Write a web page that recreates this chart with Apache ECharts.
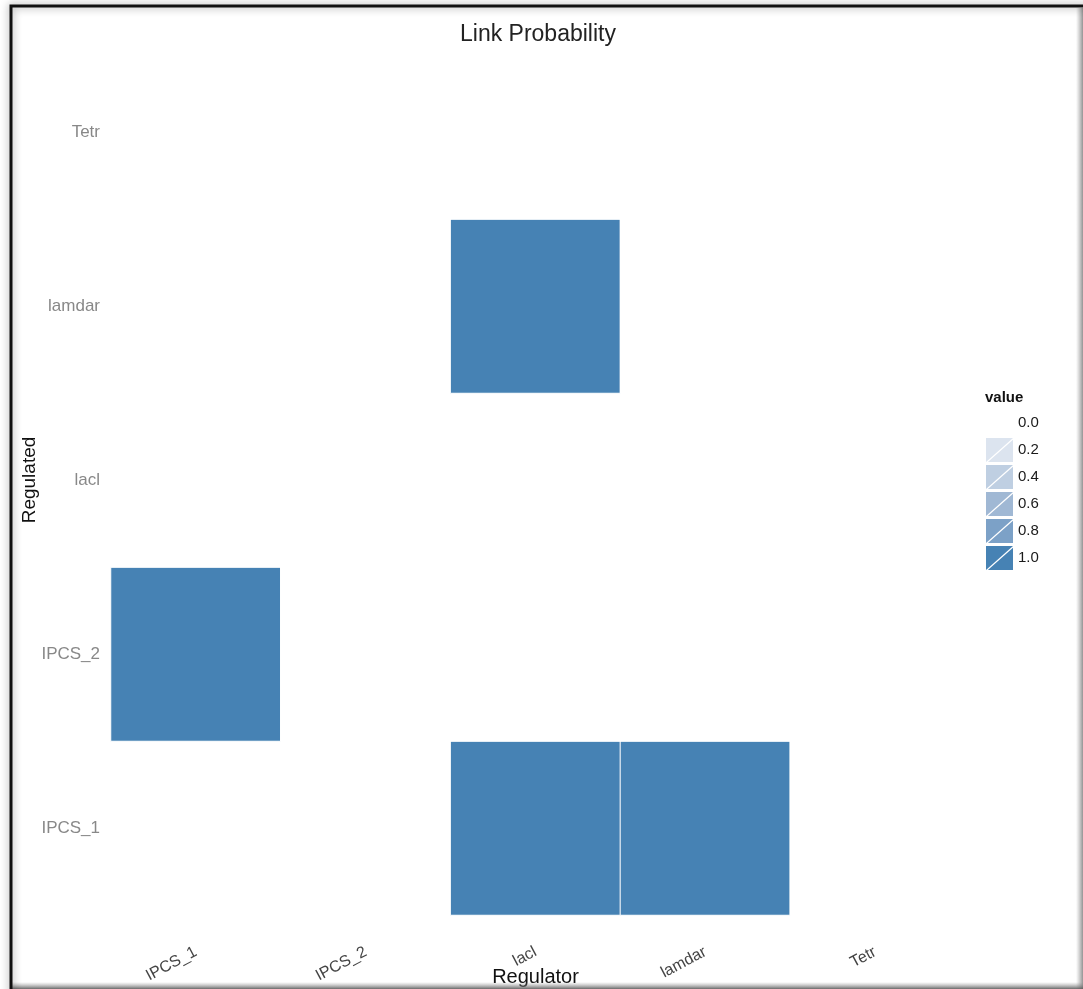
<!DOCTYPE html>
<html>
<head>
<meta charset="utf-8">
<script src="https://cdn.jsdelivr.net/npm/echarts@6/dist/echarts.min.js"></script>
<style>
html,body{margin:0;padding:0;background:#fff;overflow:hidden;}
#chart{width:1083px;height:989px;}
</style>
</head>
<body>
<div id="chart"></div>
<script>
var regulators = ['IPCS_1', 'IPCS_2', 'lacl', 'lamdar', 'Tetr'];
var regulated = ['IPCS_1', 'IPCS_2', 'lacl', 'lamdar', 'Tetr'];
// rows: regulated (bottom to top), columns: regulator
var rowIPCS_1 = [0, 0, 1, 1, 0];
var rowIPCS_2 = [1, 0, 0, 0, 0];
var rowLacl   = [0, 0, 0, 0, 0];
var rowLamdar = [0, 0, 1, 0, 0];
var rowTetr   = [0, 0, 0, 0, 0];
var legendValues = [0, 0.2, 0.4, 0.6, 0.8, 1.0];
var legendLabels = ['0.0', '0.2', '0.4', '0.6', '0.8', '1.0'];
var legendColors = ['#ffffff', '#dce4ef', '#bfcfe2', '#a0b8d4', '#7ca1c7', '#4682b4'];

var rows = [rowIPCS_1, rowIPCS_2, rowLacl, rowLamdar, rowTetr];
var data = [];
rows.forEach(function (row, yi) {
  row.forEach(function (v, xi) { data.push([xi, yi, v]); });
});
var pieces = legendValues.map(function (v, i) {
  return { value: v, label: legendLabels[i], color: legendColors[i] };
});

var chart = echarts.init(document.getElementById('chart'), null, { renderer: 'canvas' });
var W = 1083, H = 989;
var font = 'Liberation Sans, Arial, sans-serif';
chart.setOption({
  backgroundColor: '#ffffff',
  animation: false,
  title: [
    { text: 'Link Probability', left: 455, top: 18,
      textStyle: { fontFamily: font, fontSize: 23, fontWeight: 'normal', color: '#222' } },
    { text: 'value', left: 980, top: 385,
      textStyle: { fontFamily: font, fontSize: 15, fontWeight: 'bold', color: '#111' } }
  ],
  grid: { left: 111, top: 45, width: 849, height: 870, outerBoundsMode: 'none', containLabel: false },
  xAxis: {
    type: 'category', data: regulators,
    name: 'Regulator', nameLocation: 'middle', nameGap: 52, nameMoveOverlap: false,
    nameTextStyle: { fontFamily: font, fontSize: 20, color: '#111' },
    axisLine: { show: false }, axisTick: { show: false }, splitLine: { show: false },
    axisLabel: { rotate: 28, margin: 36, fontFamily: font, fontSize: 16, color: '#444' }
  },
  yAxis: {
    type: 'category', data: regulated,
    name: 'Regulated', nameLocation: 'middle', nameGap: 72, nameRotate: 90, nameMoveOverlap: false,
    nameTextStyle: { fontFamily: font, fontSize: 19, color: '#111' },
    axisLabel: { margin: 11, fontFamily: font, fontSize: 17, color: '#888' },
    axisLine: { show: false }, axisTick: { show: false }, splitLine: { show: false }
  },
  visualMap: {
    type: 'piecewise', pieces: pieces, orient: 'vertical', inverse: true, align: 'left',
    left: 971, top: 396, itemWidth: 27, itemHeight: 24, itemGap: 3, textGap: 5,
    itemSymbol: 'path://M0,0L100,0L0,100Z M100,7L100,100L7,100Z',
    textStyle: { fontFamily: font, fontSize: 15, color: '#1a1a1a' },
    selectedMode: false
  },
  series: [{
    type: 'heatmap', data: data,
    itemStyle: { borderColor: '#ffffff', borderWidth: 1 },
    emphasis: { disabled: true }
  }],
  graphic: [
    { type: 'rect', z: 100, silent: true,
      shape: { x: 11, y: 6, width: W + 50, height: H + 50 },
      style: { fill: null, stroke: '#111', lineWidth: 3, shadowBlur: 8, shadowColor: 'rgba(0,0,0,0.45)' } },
    { type: 'rect', z: 99, silent: true,
      shape: { x: W - 7, y: 8, width: 7, height: H },
      style: { fill: new echarts.graphic.LinearGradient(0, 0, 1, 0, [
        { offset: 0, color: 'rgba(150,150,150,0)' }, { offset: 1, color: 'rgba(120,120,120,0.8)' }]) } },
    { type: 'rect', z: 99, silent: true,
      shape: { x: 12, y: H - 7, width: W, height: 7 },
      style: { fill: new echarts.graphic.LinearGradient(0, 0, 0, 1, [
        { offset: 0, color: 'rgba(150,150,150,0)' }, { offset: 1, color: 'rgba(90,90,90,0.9)' }]) } }
  ]
});
</script>
</body>
</html>
